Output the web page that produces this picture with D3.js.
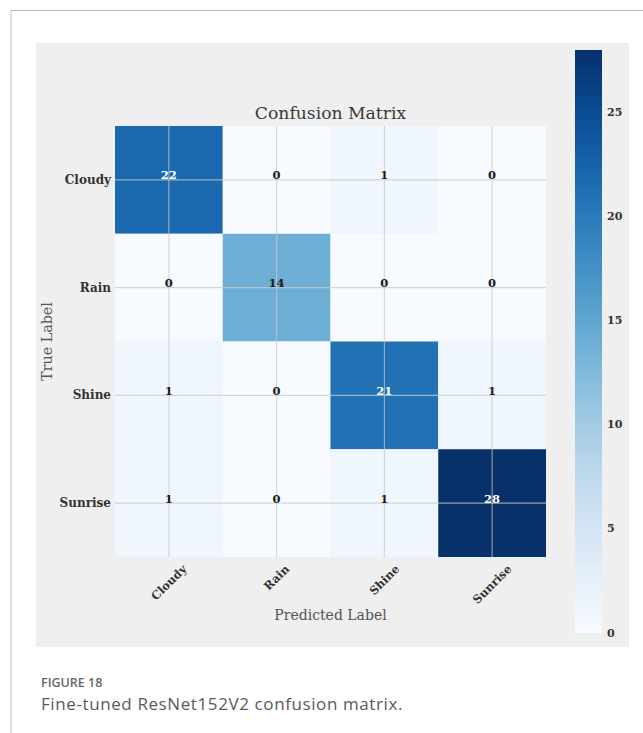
<!DOCTYPE html>
<html>
<head>
<meta charset="utf-8">
<script src="https://cdn.jsdelivr.net/npm/d3@7"></script>
<style>
  html, body { margin: 0; padding: 0; background: #fff; }
  svg { display: block; }
</style>
</head>
<body>
<svg id="chart" width="643" height="733"></svg>
<script>
// Class names, shared by both axes
const classes = ["Cloudy", "Rain", "Shine", "Sunrise"];
// Confusion counts, one row per true class
const rowCloudy  = [22, 0, 1, 0];
const rowRain    = [0, 14, 0, 0];
const rowShine   = [1, 0, 21, 1];
const rowSunrise = [1, 0, 1, 28];
const matrix = [rowCloudy, rowRain, rowShine, rowSunrise];
// Colorbar ticks
const colorbarTicks = [0, 5, 10, 15, 20, 25];
const colorMax = 28;

const svg = d3.select("#chart");
const serif = "'DejaVu Serif', serif";

// Page frame lines
svg.append("line").attr("x1", 11).attr("x2", 643).attr("y1", 10.5).attr("y2", 10.5)
  .attr("stroke", "#bdbdbd").attr("stroke-width", 1);
svg.append("line").attr("x1", 11).attr("x2", 11).attr("y1", 10.5).attr("y2", 733)
  .attr("stroke", "#bdbdbd").attr("stroke-width", 1);

// Figure background
svg.append("rect").attr("x", 36).attr("y", 43).attr("width", 593).attr("height", 604)
  .attr("fill", "#efefef");

// Heatmap scales
const plot = { left: 115, top: 126, size: 431 };
const x = d3.scaleBand().domain(classes).range([plot.left, plot.left + plot.size]);
const y = d3.scaleBand().domain(classes).range([plot.top, plot.top + plot.size]);
const color = d3.scaleSequential(d3.interpolateBlues).domain([0, colorMax]);

const cells = [];
matrix.forEach((row, i) => row.forEach((v, j) => cells.push({ t: classes[i], p: classes[j], v })));

const g = svg.append("g");
g.selectAll("rect.cell").data(cells).join("rect")
  .attr("class", "cell")
  .attr("x", d => x(d.p)).attr("y", d => y(d.t))
  .attr("width", x.bandwidth()).attr("height", y.bandwidth())
  .attr("fill", d => color(d.v));

// Grid lines through the cell centres
g.selectAll("line.vgrid").data(classes).join("line")
  .attr("x1", c => x(c) + x.bandwidth() / 2).attr("x2", c => x(c) + x.bandwidth() / 2)
  .attr("y1", plot.top).attr("y2", plot.top + plot.size)
  .attr("stroke", "rgba(200,200,200,0.75)").attr("stroke-width", 1.1);
g.selectAll("line.hgrid").data(classes).join("line")
  .attr("y1", c => y(c) + y.bandwidth() / 2).attr("y2", c => y(c) + y.bandwidth() / 2)
  .attr("x1", plot.left).attr("x2", plot.left + plot.size)
  .attr("stroke", "rgba(200,200,200,0.75)").attr("stroke-width", 1.1);

// Cell annotations
const thresh = colorMax / 2;
g.selectAll("text.val").data(cells).join("text")
  .attr("x", d => x(d.p) + x.bandwidth() / 2)
  .attr("y", d => y(d.t) + y.bandwidth() / 2 - 4.5)
  .attr("text-anchor", "middle").attr("dominant-baseline", "central")
  .attr("font-family", serif).attr("font-weight", "bold").attr("font-size", 11.5)
  .attr("fill", d => d.v > thresh ? "#ffffff" : "#1a1a1a")
  .text(d => d.v);

// Title
svg.append("text").attr("x", plot.left + plot.size / 2).attr("y", 119)
  .attr("text-anchor", "middle").attr("font-family", serif).attr("font-size", 17.2)
  .attr("fill", "#3a3a3a").text("Confusion Matrix");

// Y tick labels
svg.selectAll("text.ytick").data(classes).join("text")
  .attr("x", plot.left - 4).attr("y", c => y(c) + y.bandwidth() / 2)
  .attr("text-anchor", "end").attr("dominant-baseline", "central")
  .attr("font-family", serif).attr("font-weight", "bold").attr("font-size", 12)
  .attr("fill", "#333").text(c => c);

// X tick labels, rotated 45 degrees and centred under each column
const xt = svg.selectAll("text.xtick").data(classes).join("text")
  .attr("text-anchor", "middle").attr("dominant-baseline", "central")
  .attr("font-family", serif).attr("font-weight", "bold").attr("font-size", 11.5)
  .attr("fill", "#333").text(c => c);
xt.each(function(c) {
  const w = this.getComputedTextLength();
  const h = (w + 11) * Math.SQRT1_2;
  const cx = x(c) + x.bandwidth() / 2;
  const cy = plot.top + plot.size + 6 + h / 2;
  d3.select(this).attr("transform", `translate(${cx},${cy}) rotate(-45)`);
});

// Axis titles
svg.append("text").attr("x", plot.left + plot.size / 2).attr("y", 620)
  .attr("text-anchor", "middle").attr("font-family", serif).attr("font-size", 14)
  .attr("fill", "#555").text("Predicted Label");
svg.append("text").attr("transform", `translate(52,${plot.top + plot.size / 2}) rotate(-90)`)
  .attr("text-anchor", "middle").attr("font-family", serif).attr("font-size", 14.3)
  .attr("fill", "#555").text("True Label");

// Colorbar
const cb = { x: 575, w: 27, top: 50, bottom: 633 };
const cy = d3.scaleLinear().domain([0, colorMax]).range([cb.bottom, cb.top]);
const defs = svg.append("defs");
const grad = defs.append("linearGradient").attr("id", "cbgrad")
  .attr("x1", 0).attr("y1", 1).attr("x2", 0).attr("y2", 0);
d3.range(0, 1.0001, 0.05).forEach(t => {
  grad.append("stop").attr("offset", t).attr("stop-color", d3.interpolateBlues(t));
});
svg.append("rect").attr("x", cb.x).attr("y", cb.top).attr("width", cb.w)
  .attr("height", cb.bottom - cb.top).attr("fill", "url(#cbgrad)");
svg.selectAll("text.cbtick").data(colorbarTicks).join("text")
  .attr("x", cb.x + cb.w + 5).attr("y", d => cy(d))
  .attr("dominant-baseline", "central")
  .attr("font-family", serif).attr("font-weight", "bold").attr("font-size", 11)
  .attr("fill", "#333").text(d => d);

// Caption
svg.append("text").attr("x", 41).attr("y", 687)
  .attr("font-family", "'Open Sans', sans-serif").attr("font-weight", 600).attr("font-size", 12.5)
  .attr("fill", "#666").text("FIGURE 18");
svg.append("text").attr("x", 41).attr("y", 710)
  .attr("font-family", "'Open Sans', sans-serif").attr("font-size", 17)
  .attr("letter-spacing", 0.6)
  .attr("fill", "#5a5a5a").text("Fine-tuned ResNet152V2 confusion matrix.");
</script>
</body>
</html>
